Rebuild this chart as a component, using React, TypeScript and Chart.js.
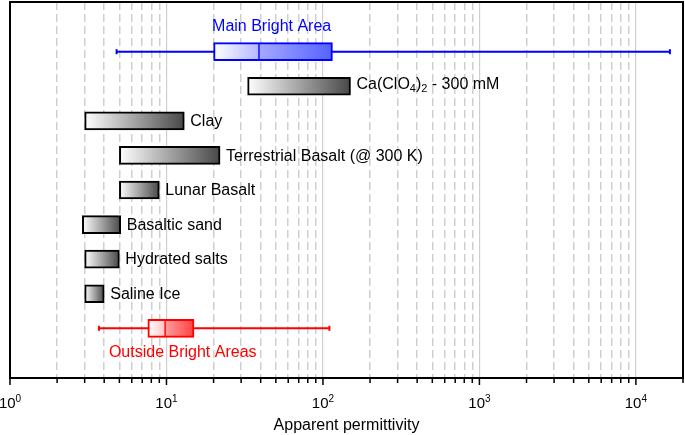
import React, { useEffect, useRef } from 'react';
import { Chart, registerables } from 'chart.js';

Chart.register(...registerables);

const FONT = '"Liberation Sans", Arial, Helvetica, sans-serif';

// ---------- data ----------
const materialNames = [
  'Ca(ClO_4)_2 - 300 mM',
  'Clay',
  'Terrestrial Basalt (@ 300 K)',
  'Lunar Basalt',
  'Basaltic sand',
  'Hydrated salts',
  'Saline Ice',
];
const materialRows = [2, 3, 4, 5, 6, 7, 8];
const materialMin = [33, 3, 5, 5, 2.9, 3, 3];
const materialMax = [150, 13, 22, 9, 5.1, 5, 4];

const areaNames = ['Main Bright Area', 'Outside Bright Areas'];
const areaRows = [1, 9];
const areaWhiskerMin = [4.8, 3.7];
const areaQ1 = [20, 7.6];
const areaMedian = [39, 9.8];
const areaQ3 = [115, 15];
const areaWhiskerMax = [16500, 110];
const areaLabelAt = [47, 12.7];
const areaColors = ['#0000ff', '#ff0000'];
const areaLowFill = [
  ['#ffffff', '#b4b8ff'],
  ['#ffffff', '#ffc4c4'],
];
const areaHighFill = [
  ['#a4aaff', '#5562ff'],
  ['#ff9e9e', '#ff4040'],
];

const decades = [1, 10, 100, 1000, 10000];
const decadeBase = '10';
const decadeExponents = ['0', '1', '2', '3', '4'];
const minorMultipliers = [2, 3, 4, 5, 6, 7, 8, 9];
const axisMin = 1;
const axisMax = 20000;
const axisTitle = 'Apparent permittivity';
const rowMin = -0.437;
const rowMax = 10.437;

const tickValues = decades
  .flatMap((d) => [1, ...minorMultipliers].map((m) => m * d))
  .filter((v) => v <= axisMax);

// ---------- helpers ----------
function hGrad(chart: any, lo: number, hi: number, c0: string, c1: string) {
  const xs = chart.scales && chart.scales.x;
  if (!xs || !chart.chartArea) return c1;
  const x0 = xs.getPixelForValue(lo);
  const x1 = xs.getPixelForValue(hi);
  if (!isFinite(x0) || !isFinite(x1) || x0 === x1) return c1;
  const g = chart.ctx.createLinearGradient(x0, 0, x1, 0);
  g.addColorStop(0, c0);
  g.addColorStop(1, c1);
  return g;
}

const overlayPlugin = {
  id: 'overlay',
  afterDatasetsDraw(chart: any) {
    const { ctx, scales } = chart;
    const x = scales.x;
    const y = scales.y;
    ctx.save();
    ctx.textAlign = 'left';
    ctx.textBaseline = 'alphabetic';
    ctx.fillStyle = '#000';
    materialNames.forEach((name, i) => {
      const parts = name.split(/(_\d)/).filter((p) => p.length > 0);
      const hasSub = parts.some((p) => p.startsWith('_'));
      let cx = x.getPixelForValue(materialMax[i]) + 6;
      const base = y.getPixelForValue(materialRows[i]) + (hasSub ? 3 : 5.3);
      parts.forEach((p) => {
        if (p.startsWith('_')) {
          const s = p.slice(1);
          ctx.font = `11px ${FONT}`;
          ctx.fillText(s, cx, base + 3);
          cx += ctx.measureText(s).width;
        } else {
          ctx.font = `16px ${FONT}`;
          ctx.fillText(p, cx, base);
          cx += ctx.measureText(p).width;
        }
      });
    });
    ctx.textAlign = 'center';
    ctx.font = `16px ${FONT}`;
    areaNames.forEach((name, i) => {
      ctx.fillStyle = areaColors[i];
      const rowPx = y.getPixelForValue(areaRows[i]);
      const base = i === 0 ? rowPx - 21 : rowPx + 28.4;
      ctx.fillText(name, x.getPixelForValue(areaLabelAt[i]), base);
    });
    ctx.restore();
  },
  afterDraw(chart: any) {
    const { ctx, chartArea: a, scales } = chart;
    const x = scales.x;
    ctx.save();
    ctx.strokeStyle = '#000';
    ctx.lineWidth = 2;
    ctx.strokeRect(a.left, a.top, a.right - a.left, a.bottom - a.top);
    ctx.lineWidth = 1.5;
    x.ticks.forEach((t: any) => {
      const px = x.getPixelForValue(t.value);
      const len = decades.includes(t.value) ? 7 : 5;
      ctx.beginPath();
      ctx.moveTo(px, a.bottom);
      ctx.lineTo(px, a.bottom + len);
      ctx.stroke();
    });
    ctx.fillStyle = '#000';
    ctx.textAlign = 'left';
    ctx.textBaseline = 'alphabetic';
    decades.forEach((d, i) => {
      const px = x.getPixelForValue(d);
      ctx.font = `15px ${FONT}`;
      const w1 = ctx.measureText(decadeBase).width;
      ctx.font = `10px ${FONT}`;
      const w2 = ctx.measureText(decadeExponents[i]).width;
      const start = px - (w1 + w2) / 2;
      ctx.font = `15px ${FONT}`;
      ctx.fillText(decadeBase, start, a.bottom + 29.7);
      ctx.font = `10px ${FONT}`;
      ctx.fillText(decadeExponents[i], start + w1, a.bottom + 24.3);
    });
    ctx.restore();
  },
};

export default function App() {
  const ref = useRef<HTMLCanvasElement>(null);

  useEffect(() => {
    const canvas = ref.current;
    if (!canvas) return;

    const datasets: any[] = [
      {
        type: 'bar',
        label: 'Materials',
        order: 1,
        data: materialRows.map((r, i) => ({ y: r, x: [materialMin[i], materialMax[i]] })),
        backgroundColor: (c: any) =>
          c.raw ? hGrad(c.chart, c.raw.x[0], c.raw.x[1], '#ffffff', '#484848') : '#888888',
        borderColor: '#000000',
        borderWidth: 2,
        borderSkipped: false,
        barThickness: 18,
        maxBarThickness: 18,
        grouped: false,
      },
      {
        type: 'bar',
        label: 'Lower quartile',
        order: 1,
        data: areaRows.map((r, i) => ({ y: r, x: [areaQ1[i], areaMedian[i]] })),
        backgroundColor: (c: any) =>
          c.raw
            ? hGrad(c.chart, c.raw.x[0], c.raw.x[1], areaLowFill[c.dataIndex][0], areaLowFill[c.dataIndex][1])
            : '#888888',
        borderColor: areaColors,
        borderWidth: { top: 2, bottom: 2, left: 2, right: 1 },
        borderSkipped: false,
        barThickness: 18,
        maxBarThickness: 18,
        grouped: false,
      },
      {
        type: 'bar',
        label: 'Upper quartile',
        order: 1,
        data: areaRows.map((r, i) => ({ y: r, x: [areaMedian[i], areaQ3[i]] })),
        backgroundColor: (c: any) =>
          c.raw
            ? hGrad(c.chart, c.raw.x[0], c.raw.x[1], areaHighFill[c.dataIndex][0], areaHighFill[c.dataIndex][1])
            : '#888888',
        borderColor: areaColors,
        borderWidth: { top: 2, bottom: 2, left: 1, right: 2 },
        borderSkipped: false,
        barThickness: 18,
        maxBarThickness: 18,
        grouped: false,
      },
      ...areaRows.map((r, i) => ({
        type: 'line',
        label: areaNames[i] + ' range',
        order: 3,
        data: [
          { x: areaWhiskerMin[i], y: r },
          { x: areaWhiskerMax[i], y: r },
        ],
        borderColor: areaColors[i],
        backgroundColor: areaColors[i],
        borderWidth: 2,
        pointStyle: 'line',
        pointRotation: 90,
        pointRadius: 2.5,
        pointBorderWidth: 2,
        pointBorderColor: areaColors[i],
        pointBackgroundColor: areaColors[i],
        fill: false,
        tension: 0,
      })),
    ];

    const chart = new Chart(canvas, {
      type: 'bar',
      data: { datasets },
      options: {
        responsive: false,
        devicePixelRatio: 1,
        animation: false,
        indexAxis: 'y',
        layout: { autoPadding: false, padding: { left: 10, right: 2, top: 2, bottom: 0 } },
        plugins: {
          legend: { display: false },
          tooltip: { enabled: false },
        },
        scales: {
          x: {
            type: 'logarithmic',
            position: 'bottom',
            offset: false,
            min: axisMin,
            max: axisMax,
            afterBuildTicks: (s: any) => {
              s.ticks = tickValues.map((v) => ({ value: v, major: decades.includes(v) }));
            },
            afterFit: (s: any) => {
              s.height = 57;
            },
            ticks: { display: false },
            grid: {
              drawTicks: false,
              offset: false,
              color: '#cfcfcf',
              lineWidth: (c: any) => (c.tick && decades.includes(c.tick.value) ? 1.2 : 1.5),
            },
            border: {
              display: false,
              dash: (c: any) => (c.tick && !decades.includes(c.tick.value) ? [8, 4] : []),
            },
            title: {
              display: true,
              text: axisTitle,
              color: '#000000',
              font: { family: FONT, size: 16 },
              padding: { top: 0, bottom: 0 },
            },
          },
          y: {
            type: 'linear',
            display: false,
            offset: false,
            grid: { offset: false },
            min: rowMin,
            max: rowMax,
            reverse: true,
          },
        },
      } as any,
      plugins: [overlayPlugin],
    } as any);

    return () => chart.destroy();
  }, []);

  return (
    <div style={{ position: 'absolute', left: 0, top: 0, width: 685, height: 435, background: '#ffffff' }}>
      <canvas ref={ref} width={685} height={435} style={{ display: 'block', width: 685, height: 435 }} />
    </div>
  );
}
